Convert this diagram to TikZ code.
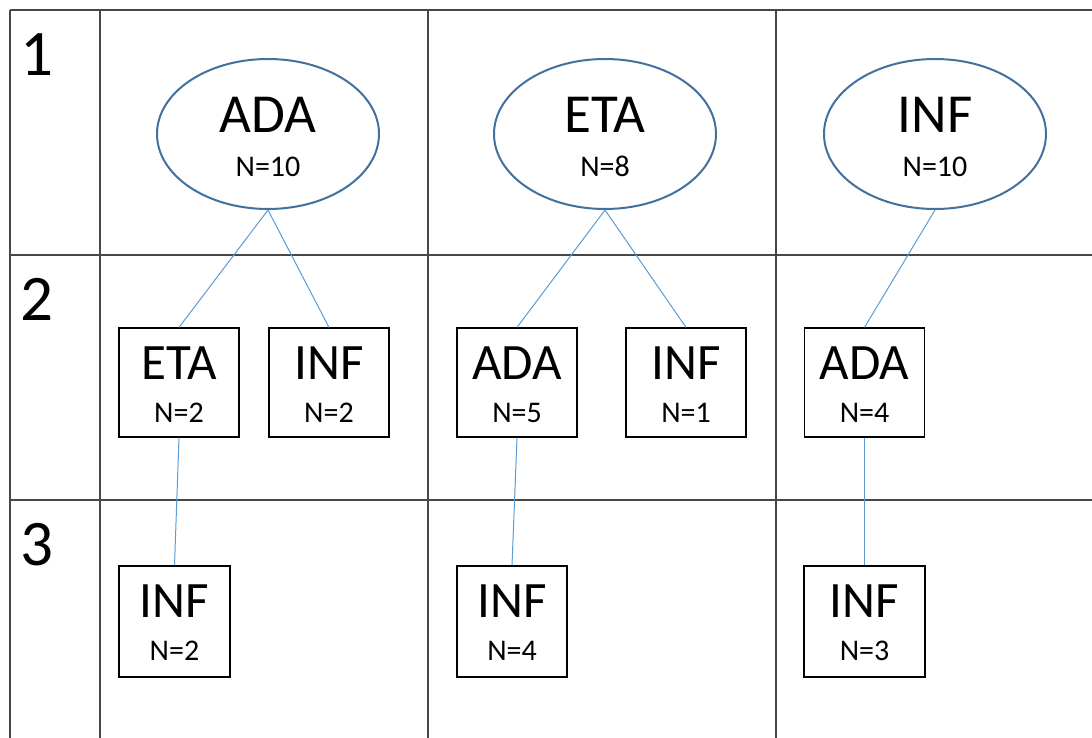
\documentclass[tikz,border=0pt]{standalone}
\usepackage{fontspec}
\setmainfont{Carlito}
\usetikzlibrary{shapes,calc}
\definecolor{gridgray}{HTML}{474747}
\definecolor{ellblue}{HTML}{41719C}
\definecolor{linkblue}{HTML}{5B9BD5}
\begin{document}
\begin{tikzpicture}[x=1pt,y=-1pt]
  \tikzstyle{grid line}=[draw=gridgray,line width=1.8pt]
  \tikzstyle{group}=[ellipse,draw=ellblue,line width=2pt,fill=white,minimum width=222pt,minimum height=150pt,inner sep=0pt]
  \tikzstyle{sub}=[rectangle,draw=black,line width=1.2pt,minimum width=120pt,minimum height=109pt,inner sep=0pt]
  \tikzstyle{rownum}=[anchor=base west,inner sep=0pt,font=\fontsize{65}{78}\selectfont]
  \tikzstyle{subtag}=[anchor=base,inner sep=0pt,font=\fontsize{51}{61}\selectfont]
  \tikzstyle{grouptag}=[anchor=base,inner sep=0pt,font=\fontsize{55}{66}\selectfont]
  \tikzstyle{ntag}=[anchor=base,inner sep=0pt,font=\fontsize{30}{36}\selectfont]
  \tikzstyle{link}=[draw=linkblue,line width=1pt]

  \useasboundingbox (0,0) rectangle (1092,738);

  % grid
  \foreach \y in {10,255,500}
    \draw[grid line] (10,\y) -- (1092,\y);
  \foreach \x in {10,100,428,776}
    \draw[grid line] (\x,10) -- (\x,738);

  \node[rownum] (r1) at (20,76)  {1};
  \node[rownum] (r2) at (20,320) {2};
  \node[rownum] (r3) at (20,565) {3};

  % level 1
  \node[group] (ada)  at (268,134) {};
  \node[group] (eta)  at (605,134) {};
  \node[group] (inf)  at (935,134) {};

  % level 2
  \node[sub] (adaeta)    at (179,382.5) {};
  \node[sub] (adainf)    at (329,382.5) {};
  \node[sub] (etaada)    at (517,382.5) {};
  \node[sub] (etainf)    at (686,382.5) {};
  \node[sub] (infada)    at (864.5,382.5) {};

  % level 3
  \node[sub,minimum width=111pt,minimum height=111pt] (adaetainf) at (174.5,621.5) {};
  \node[sub,minimum width=110pt,minimum height=111pt] (etaadainf) at (512,621.5) {};
  \node[sub,minimum width=121pt,minimum height=111pt] (infadainf) at (864.5,621.5) {};

  % labels
  \node[grouptag] (adat) at ($(ada.center)+(0,-1)$) {ADA};
  \node[ntag]     (adan) at ($(ada.center)+(0,43)$) {N=10};
  \node[grouptag] (etat) at ($(eta.center)+(0,-1)$) {ETA};
  \node[ntag]     (etan) at ($(eta.center)+(0,43)$) {N=8};
  \node[grouptag] (inft) at ($(inf.center)+(0,-1)$) {INF};
  \node[ntag]     (infn) at ($(inf.center)+(0,43)$) {N=10};

  \node[subtag] (adaetat) at ($(adaeta.north)+(0,52)$) {ETA};
  \node[ntag]   (adaetan) at ($(adaeta.north)+(0,95)$) {N=2};
  \node[subtag] (adainft) at ($(adainf.north)+(0,52)$) {INF};
  \node[ntag]   (adainfn) at ($(adainf.north)+(0,95)$) {N=2};
  \node[subtag] (etaadat) at ($(etaada.north)+(0,52)$) {ADA};
  \node[ntag]   (etaadan) at ($(etaada.north)+(0,95)$) {N=5};
  \node[subtag] (etainft) at ($(etainf.north)+(0,52)$) {INF};
  \node[ntag]   (etainfn) at ($(etainf.north)+(0,95)$) {N=1};
  \node[subtag] (infadat) at ($(infada.north)+(0,52)$) {ADA};
  \node[ntag]   (infadan) at ($(infada.north)+(0,95)$) {N=4};

  \node[subtag] (adaetainft) at ($(adaetainf.north)+(0,52)$) {INF};
  \node[ntag]   (adaetainfn) at ($(adaetainf.north)+(0,95)$) {N=2};
  \node[subtag] (etaadainft) at ($(etaadainf.north)+(0,52)$) {INF};
  \node[ntag]   (etaadainfn) at ($(etaadainf.north)+(0,95)$) {N=4};
  \node[subtag] (infadainft) at ($(infadainf.north)+(0,52)$) {INF};
  \node[ntag]   (infadainfn) at ($(infadainf.north)+(0,95)$) {N=3};

  \path[link] (ada.south) edge (adaeta.north)
              (ada.south) edge (adainf.north)
              (eta.south) edge (etaada.north)
              (eta.south) edge (etainf.north)
              (inf.south) edge (infada.north)
              (adaeta.south) edge (adaetainf.north)
              (etaada.south) edge (etaadainf.north)
              (infada.south) edge (infadainf.north);
\end{tikzpicture}
\end{document}
